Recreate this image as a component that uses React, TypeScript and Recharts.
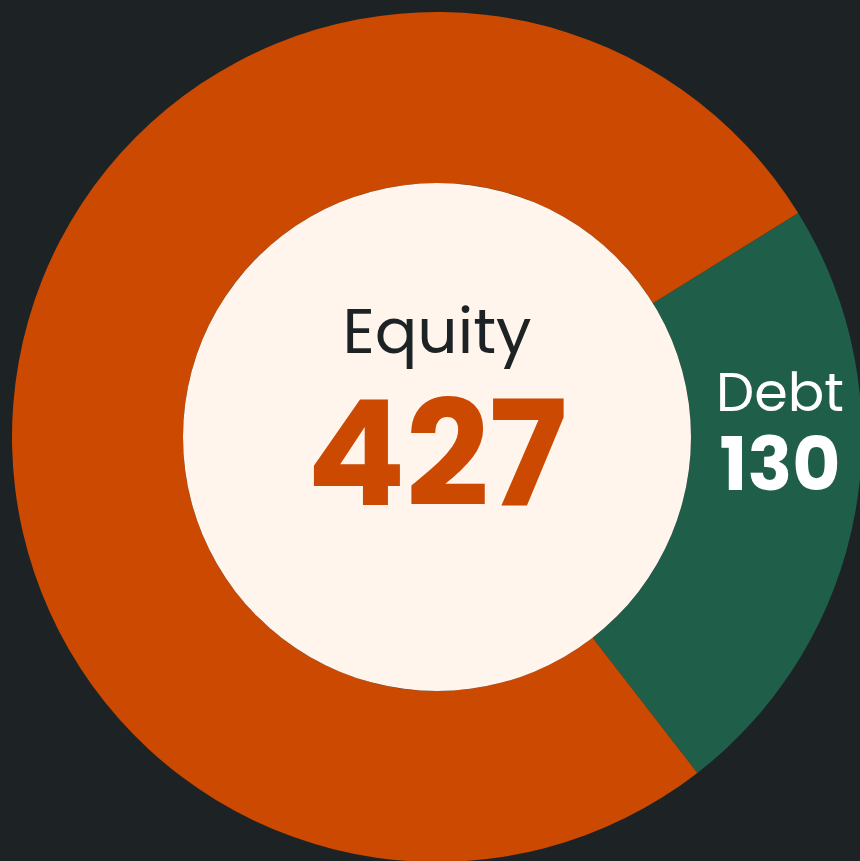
import { PieChart, Pie, Cell } from "recharts";

const names = ["Debt", "Equity"];
const values = [130, 427];
const colors = ["#1f5e48", "#cb4900"];

const ringData = names.map((name, i) => ({ name, value: values[i] }));
const centerData = [{ name: names[1], value: values[1] }];

const FONT = "Poppins, 'Open Sans', sans-serif";

const renderDebtLabel = (p: any) => {
  if (p.name !== "Debt") return null;
  const x = p.cx + 343;
  const y = p.cy;
  return (
    <g>
      <text x={x} y={y - 26} textAnchor="middle" fill="#ffffff" fontFamily={FONT} fontSize={54} fontWeight={400}>
        {p.name}
      </text>
      <text x={x} y={y + 53} textAnchor="middle" fill="#ffffff" fontFamily={FONT} fontSize={74} fontWeight={700}>
        {p.value}
      </text>
    </g>
  );
};

const renderCenterLabel = (p: any) => (
  <g>
    <text x={p.cx} y={p.cy - 84} textAnchor="middle" fill="#1d2324" fontFamily={FONT} fontSize={63} fontWeight={400}>
      {p.name}
    </text>
    <text x={p.cx} y={p.cy + 68} textAnchor="middle" fill="#cb4900" fontFamily={FONT} fontSize={146} fontWeight={700}>
      {p.value}
    </text>
  </g>
);

export default function App() {
  return (
    <div style={{ position: "absolute", left: 0, top: 0, width: 860, height: 861, background: "#1d2324" }}>
      <PieChart width={860} height={861} margin={{ top: 0, right: 0, bottom: 0, left: 0 }}>
        <Pie
          data={ringData}
          dataKey="value"
          cx={437}
          cy={437}
          innerRadius={254}
          outerRadius={425}
          startAngle={31.8}
          endAngle={-328.2}
          stroke="none"
          label={renderDebtLabel}
          labelLine={false}
          isAnimationActive={false}
        >
          {ringData.map((d, i) => (
            <Cell key={d.name} fill={colors[i]} />
          ))}
        </Pie>
        <Pie
          data={centerData}
          dataKey="value"
          cx={437}
          cy={437}
          innerRadius={0}
          outerRadius={254}
          fill="#fff5ec"
          stroke="none"
          label={renderCenterLabel}
          labelLine={false}
          isAnimationActive={false}
        />
      </PieChart>
    </div>
  );
}
